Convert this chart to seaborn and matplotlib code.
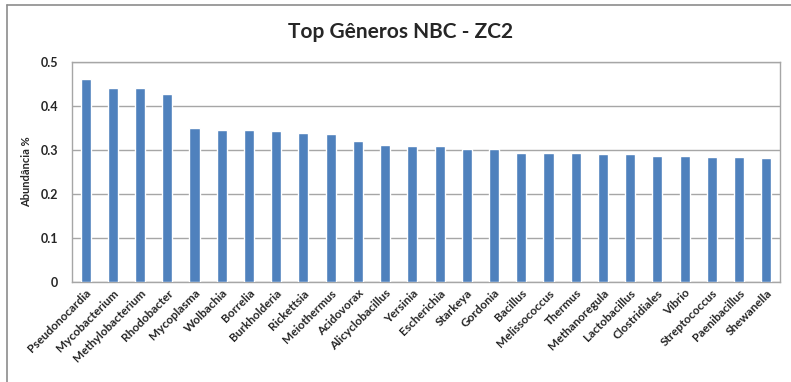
import matplotlib
matplotlib.use("Agg")
import matplotlib.pyplot as plt
import seaborn as sns
import pandas as pd
from matplotlib.lines import Line2D

generos = ["Pseudonocardia", "Mycobacterium", "Methylobacterium", "Rhodobacter",
           "Mycoplasma", "Wolbachia", "Borrelia", "Burkholderia", "Rickettsia",
           "Meiothermus", "Acidovorax", "Alicyclobacillus", "Yersinia", "Escherichia",
           "Starkeya", "Gordonia", "Bacillus", "Melissococcus", "Thermus",
           "Methanoregula", "Lactobacillus", "Clostridiales", "Vibrio",
           "Streptococcus", "Paenibacillus", "Shewanella"]
abundancia = [0.460, 0.440, 0.440, 0.427, 0.349, 0.346, 0.346, 0.344, 0.338,
              0.335, 0.321, 0.310, 0.308, 0.308, 0.303, 0.303, 0.294, 0.292,
              0.292, 0.290, 0.290, 0.287, 0.285, 0.283, 0.283, 0.281]
yticks = [0, 0.1, 0.2, 0.3, 0.4, 0.5]
ytick_labels = ["0", "0.1", "0.2", "0.3", "0.4", "0.5"]
title = "Top Gêneros NBC - ZC2"
ylabel = "Abundância %"

sns.set_style("white")
plt.rcParams['font.family'] = ['Lato', 'DejaVu Sans']

df = pd.DataFrame({"genero": generos, "abundancia": abundancia})

fig = plt.figure(figsize=(7.91, 3.82), dpi=100)
ax = fig.add_axes([0.091, 0.262, 0.895, 0.576])
sns.barplot(data=df, x="genero", y="abundancia", color="#4F81BD", saturation=1,
            width=0.37, ax=ax, zorder=3)
ax.set_ylim(0, 0.5)
ax.set_xlim(-0.5, len(generos) - 0.5)
ax.set_yticks(yticks)
ax.set_yticklabels(ytick_labels, fontsize=9, fontweight="bold")
ax.set_xticks(range(len(generos)))
ax.set_xticklabels(generos, rotation=45, ha="right", rotation_mode="anchor",
                   fontsize=8.5, fontweight="bold")
ax.tick_params(axis="x", length=0, pad=4)
ax.tick_params(axis="y", length=0, pad=10)
ax.grid(axis="y", color="#A6A6A6", linewidth=1, zorder=0)
for s in ax.spines.values():
    s.set_color("#A6A6A6")
    s.set_linewidth(1)
ax.set_xlabel("")
ax.set_ylabel(ylabel, fontsize=8, fontweight="bold", labelpad=6)

fig.text(0.506, 0.915, title, ha="center", va="center", fontsize=15, fontweight="bold")

# outer chart border (left and top edges)
fig.add_artist(Line2D([7/791, 7/791], [0, 1 - 5/382], transform=fig.transFigure,
                      color="#8C8C8C", linewidth=1.2))
fig.add_artist(Line2D([7/791, 1], [1 - 5/382, 1 - 5/382], transform=fig.transFigure,
                      color="#8C8C8C", linewidth=1.2))

fig.savefig("out.png", dpi=100)
